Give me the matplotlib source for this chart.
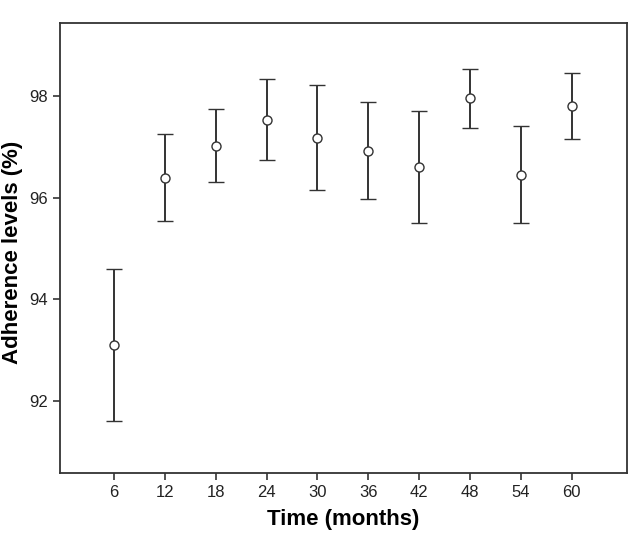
import matplotlib
matplotlib.use("Agg")
import matplotlib.pyplot as plt

# --- Data ---
months = [6, 12, 18, 24, 30, 36, 42, 48, 54, 60]
mean_adherence = [93.10, 96.38, 97.02, 97.53, 97.17, 96.91, 96.60, 97.95, 96.45, 97.80]
upper = [94.60, 97.25, 97.74, 98.33, 98.21, 97.87, 97.70, 98.53, 97.41, 98.44]
lower = [91.62, 95.54, 96.31, 96.73, 96.15, 95.97, 95.50, 97.36, 95.50, 97.15]
y_ticks = [92, 94, 96, 98]

plt.rcParams['font.family'] = ['Liberation Sans', 'DejaVu Sans']
INK = '#333333'

fig = plt.figure(figsize=(6.28, 5.33), dpi=100)
ax = fig.add_axes([0.0955, 0.112, 0.9024, 0.8443])

err_lo = [m - l for m, l in zip(mean_adherence, lower)]
err_hi = [u - m for m, u in zip(mean_adherence, upper)]
ax.errorbar(months, mean_adherence, yerr=[err_lo, err_hi], fmt='o',
            mfc='white', mec=INK, ms=6.5, mew=1.0,
            ecolor=INK, elinewidth=1.4, capsize=5.5, capthick=1.4)

ax.set_xlim(-0.37, 66.49)
ax.set_ylim(90.586, 99.42)
ax.set_xticks(months)
ax.set_yticks(y_ticks)
ax.tick_params(direction='out', length=5, width=1.2, colors=INK,
               labelsize=12, labelcolor='#222222')
for s in ax.spines.values():
    s.set_color(INK)
    s.set_linewidth(1.3)

ax.set_xlabel('Time (months)', fontsize=16, fontweight='bold')
ax.set_ylabel('Adherence levels (%)', fontsize=16, fontweight='bold')
# labels placed where the reference has them
ax.xaxis.set_label_coords(0.5, -0.079)
ax.yaxis.set_label_coords(-0.066, 0.49)

fig.savefig('out.png', dpi=100)
